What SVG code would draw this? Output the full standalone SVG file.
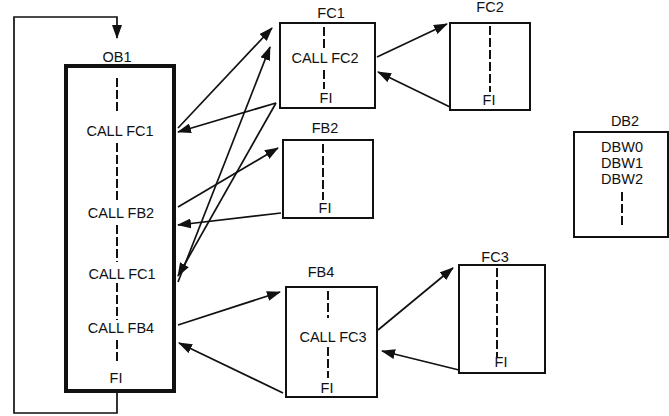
<svg xmlns="http://www.w3.org/2000/svg" width="669" height="416" viewBox="0 0 669 416">
<style>
text{font-family:"Liberation Sans",Arial,sans-serif;font-size:14.5px;fill:#111;text-anchor:middle}
.box{fill:#fff;stroke:#111;stroke-width:2}
.thick{fill:#fff;stroke:#111;stroke-width:4}
.dash{stroke:#111;stroke-width:2;stroke-dasharray:9 3;fill:none}
.con{stroke:#111;stroke-width:1.7;fill:none;marker-end:url(#arr)}
</style>
<defs>
<marker id="arr" viewBox="0 0 14 10" refX="13" refY="5" markerWidth="14" markerHeight="10" markerUnits="userSpaceOnUse" orient="auto">
<path d="M0,0 L14,5 L0,10 Z" fill="#111"/>
</marker>
</defs>
<rect width="669" height="416" fill="#fff"/>
<g id="OB1">
<text x="117" y="62">OB1</text>
<rect class="thick" x="66" y="66" width="108" height="325"/>
<line class="dash" x1="117" y1="78" x2="117" y2="113"/>
<text x="120" y="136">CALL FC1</text>
<line class="dash" x1="117" y1="143" x2="117" y2="203"/>
<text x="121" y="218">CALL FB2</text>
<line class="dash" x1="117" y1="225" x2="117" y2="262"/>
<text x="122" y="279">CALL FC1</text>
<line class="dash" x1="117" y1="283" x2="117" y2="320"/>
<text x="121" y="333">CALL FB4</text>
<line class="dash" x1="117" y1="340" x2="117" y2="364"/>
<text x="116" y="383">FI</text>
</g>
<g id="FC1">
<text x="331" y="18">FC1</text>
<rect class="box" x="280" y="23" width="95" height="85"/>
<line class="dash" x1="324" y1="27" x2="324" y2="50"/>
<text x="325" y="63">CALL FC2</text>
<line class="dash" x1="324" y1="70" x2="324" y2="89"/>
<text x="326" y="103">FI</text>
</g>
<g id="FC2">
<text x="490" y="12">FC2</text>
<rect class="box" x="450" y="23" width="80" height="87"/>
<line class="dash" x1="490" y1="26" x2="490" y2="92"/>
<text x="489" y="105">FI</text>
</g>
<g id="FB2">
<text x="325" y="133">FB2</text>
<rect class="box" x="283" y="140" width="90" height="78"/>
<line class="dash" x1="323" y1="144" x2="323" y2="200"/>
<text x="325" y="213">FI</text>
</g>
<g id="FB4">
<text x="321" y="277">FB4</text>
<rect class="box" x="286" y="287" width="91" height="110"/>
<line class="dash" x1="328" y1="291" x2="328" y2="318"/>
<text x="333" y="342">CALL FC3</text>
<line class="dash" x1="328" y1="347" x2="328" y2="378"/>
<text x="327" y="393">FI</text>
</g>
<g id="FC3">
<text x="495" y="262">FC3</text>
<rect class="box" x="459" y="265" width="86" height="108"/>
<line class="dash" x1="497" y1="268" x2="497" y2="358"/>
<text x="501" y="367">FI</text>
</g>
<g id="DB2">
<text x="625" y="126">DB2</text>
<rect class="box" x="574" y="132" width="94" height="105"/>
<text x="622" y="152">DBW0</text>
<text x="622" y="168">DBW1</text>
<text x="622" y="184">DBW2</text>
<line class="dash" x1="622" y1="192" x2="622" y2="228"/>
</g>
<g id="connectors">
<path class="con" d="M117,392 V413 H14 V17 H117 V38"/>
<line class="con" x1="178" y1="128" x2="272" y2="28"/>
<line class="con" x1="276" y1="103" x2="178" y2="132"/>
<line class="con" x1="178" y1="207" x2="278" y2="148"/>
<line class="con" x1="281" y1="213" x2="178" y2="225"/>
<line class="con" x1="178" y1="282" x2="270" y2="47"/>
<line class="con" x1="276" y1="103" x2="178" y2="276"/>
<line class="con" x1="178" y1="325" x2="280" y2="292"/>
<line class="con" x1="283" y1="393" x2="179" y2="343"/>
<line class="con" x1="377" y1="57" x2="447" y2="24"/>
<line class="con" x1="450" y1="107" x2="378" y2="72"/>
<line class="con" x1="378" y1="330" x2="453" y2="268"/>
<line class="con" x1="459" y1="370" x2="382" y2="351"/>
</g>
</svg>
